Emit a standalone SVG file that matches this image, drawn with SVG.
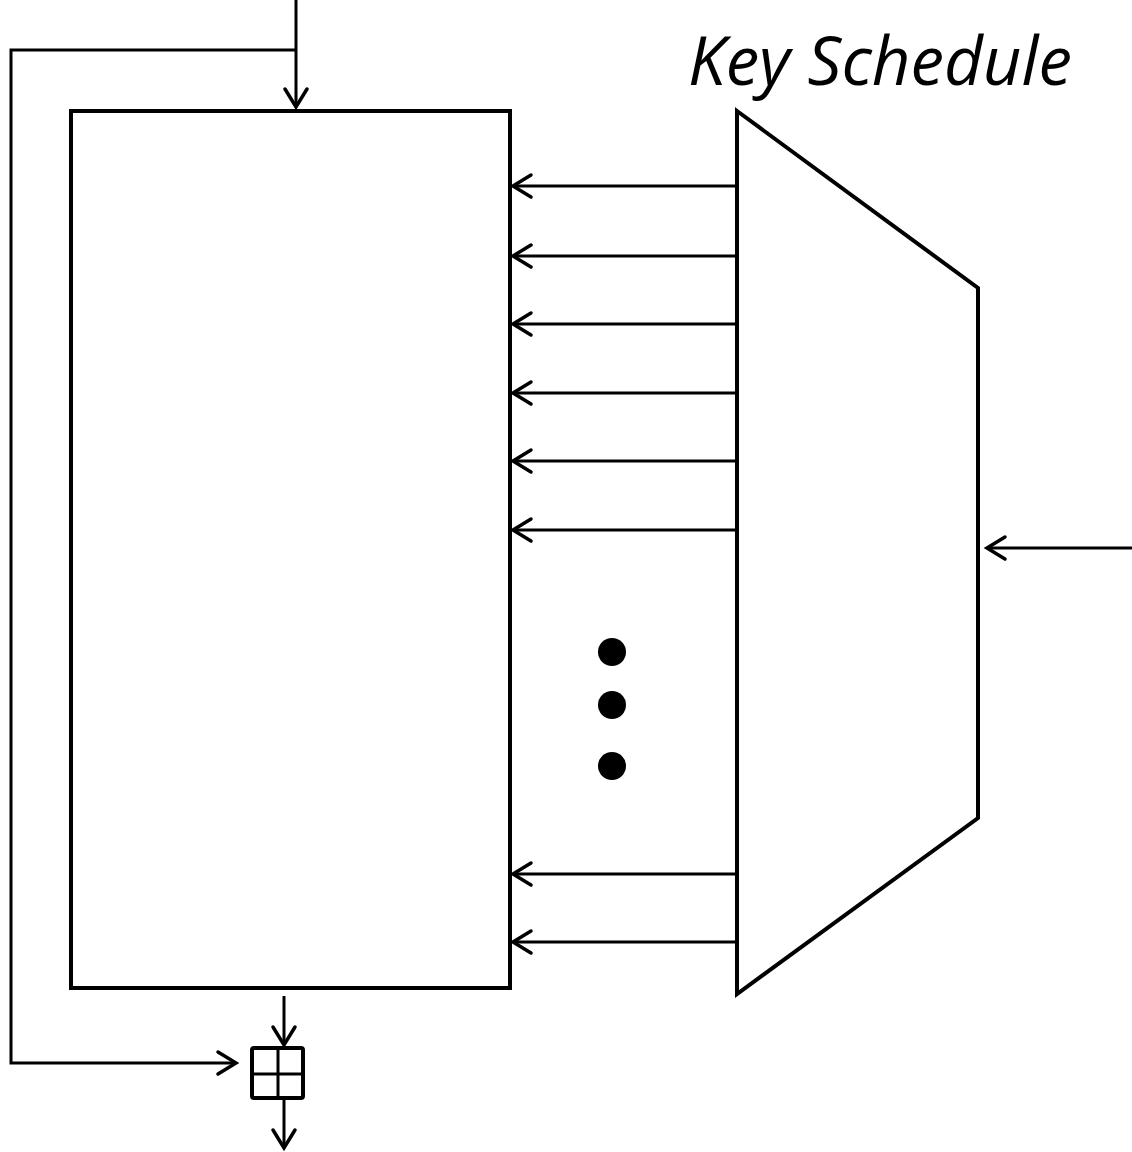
<svg xmlns="http://www.w3.org/2000/svg" width="1132" height="1152" viewBox="0 0 1132 1152">
<defs>
<marker id="ah" markerUnits="userSpaceOnUse" markerWidth="30" markerHeight="30" viewBox="-22 -15 26 30" refX="0" refY="0" orient="auto">
<path d="M-18,-11 L0,0 L-18,11" fill="none" stroke="#000" stroke-width="3.5" stroke-linecap="round" stroke-linejoin="miter"/>
</marker>
</defs>
<style>
.box{fill:#fff;stroke:#000;stroke-width:4;stroke-linejoin:miter}
.ln{fill:none;stroke:#000;stroke-width:3}
.arr{fill:none;stroke:#000;stroke-width:3;marker-end:url(#ah)}
.lbl{font-family:"Open Sans","Noto Sans",sans-serif;font-style:italic;font-size:68px;fill:#000}
</style>
<g id="connectors">
<path class="arr" d="M296,0 V107"/>
<path class="ln" d="M296,50 H11 V1063 H120"/>
<path class="arr" d="M120,1063 H236"/>
<path class="arr" d="M284,996 V1045"/>
<path class="arr" d="M284,1100 V1148"/>
<path class="arr" d="M737,186 H513"/>
<path class="arr" d="M737,256 H513"/>
<path class="arr" d="M737,324 H513"/>
<path class="arr" d="M737,393 H513"/>
<path class="arr" d="M737,461 H513"/>
<path class="arr" d="M737,530 H513"/>
<path class="arr" d="M737,874 H513"/>
<path class="arr" d="M737,942 H513"/>
<path class="arr" d="M1132,548 H987"/>
</g>
<g id="round-function">
<rect class="box" x="71" y="111" width="439" height="877"/>
</g>
<g id="key-schedule">
<polygon class="box" points="737,111 978,288 978,818 737,994"/>
<text class="lbl" x="688" y="85" textLength="384" lengthAdjust="spacingAndGlyphs">Key Schedule</text>
</g>
<g id="dots">
<circle cx="612" cy="652" r="14"/>
<circle cx="612" cy="705" r="14"/>
<circle cx="612" cy="766" r="14"/>
</g>
<g id="adder">
<rect class="box" x="252" y="1048" width="51" height="50" rx="2"/>
<path class="ln" d="M278,1048 V1098 M252,1074 H303"/>
</g>
</svg>
